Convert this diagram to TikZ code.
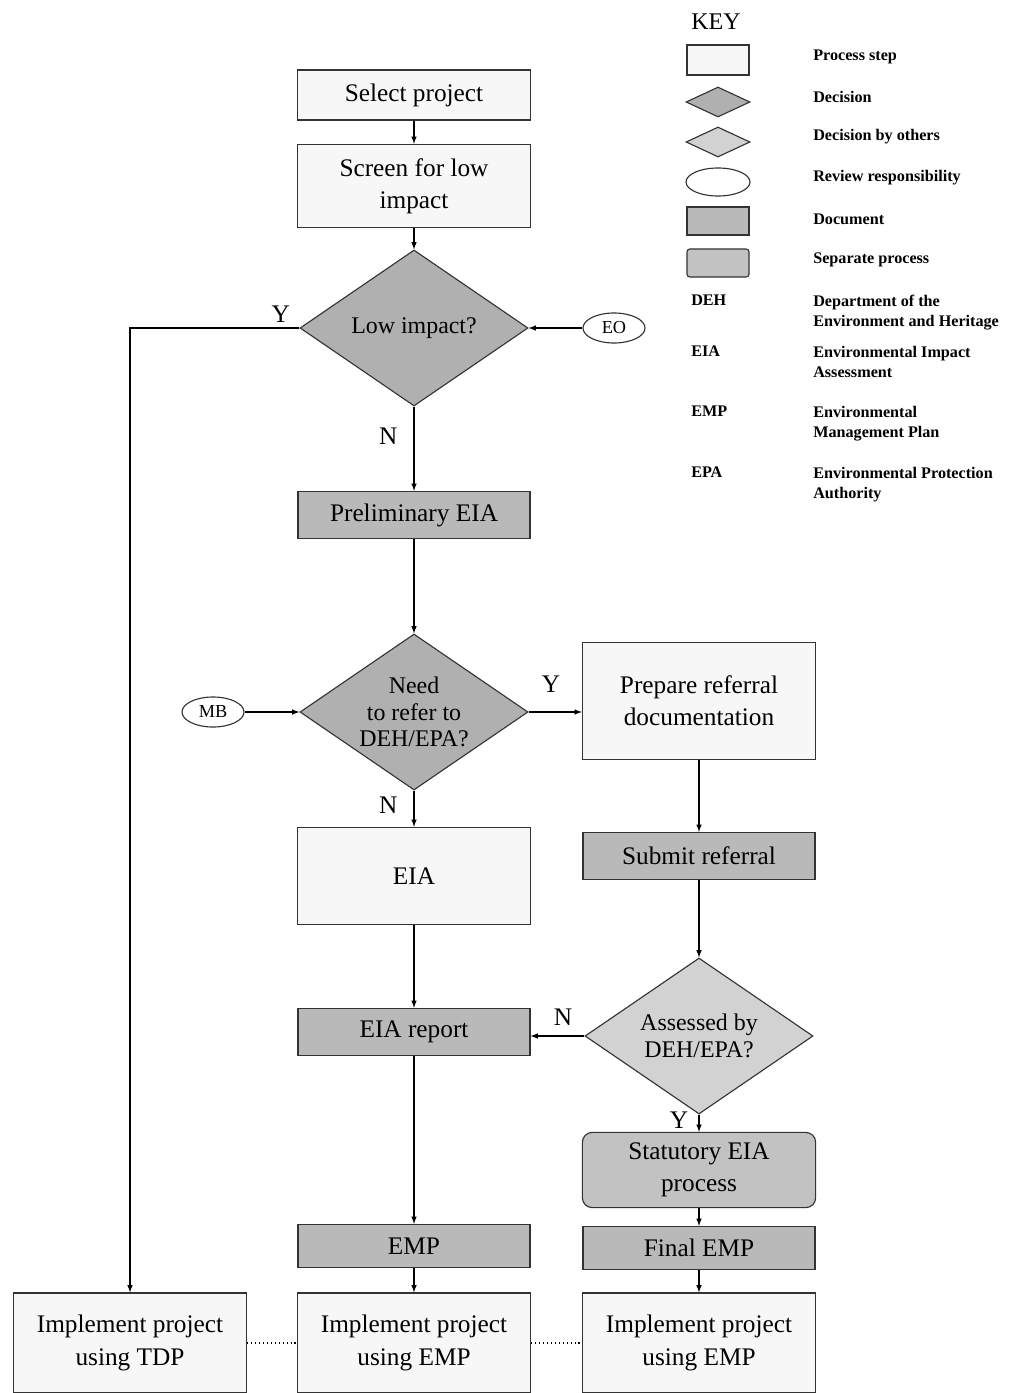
\documentclass[tikz,border=0pt]{standalone}
\usepackage{fontspec}
\setmainfont{Liberation Serif}
\usetikzlibrary{shapes.geometric, arrows, positioning}

\tikzset{
    base/.style={draw=black!80, line width=0.8pt, align=center, inner sep=2pt,
                 font=\fontsize{18}{23}\selectfont},
    process/.style={base, rectangle, fill=gray!6, minimum width=5.83cm},
    document/.style={base, rectangle, fill=gray!55, minimum width=5.8cm, minimum height=1.18cm},
    decision/.style={base, diamond, fill=gray!62, inner sep=-1cm,
                     minimum width=5.7cm, minimum height=3.9cm,
                     font=\fontsize{17}{19}\selectfont},
    others/.style={decision, fill=gray!35},
    separate/.style={base, rectangle, rounded corners=7pt, fill=gray!48,
                     minimum width=5.83cm, minimum height=1.88cm},
    review/.style={base, ellipse, fill=white, inner sep=0pt,
                   minimum width=1.55cm, minimum height=0.75cm,
                   font=\fontsize{13}{15}\selectfont},
    yn/.style={font=\fontsize{18}{20}\selectfont},
    keytext/.style={anchor=west, align=left, font=\fontsize{11.5}{14.2}\selectfont\bfseries},
    keyabbr/.style={keytext, anchor=north west},
}

\begin{document}
\begin{tikzpicture}[x=0.025cm, y=-0.025cm, >=latex, line width=0.8pt]
    \useasboundingbox (0,0) rectangle (1010,1393);

    % main flow
    \node[process, minimum height=1.25cm] (select) at (414,95) {Select project};
    \node[process, minimum height=2.08cm] (screen) at (414,186) {Screen for low\\impact};
    \node[decision] (low) at (414,328) {Low impact?};
    \node[review] (eo) at (614,328) {EO};
    \node[document] (prelim) at (414,515) {Preliminary EIA};
    \node[decision] (refer) at (414,712) {Need\\to refer to\\DEH/EPA?};
    \node[review] (mb) at (213,712) {MB};
    \node[process, minimum height=2.93cm] (prepare) at (699,701) {Prepare referral\\documentation};
    \node[process, minimum height=2.43cm] (eia) at (414,876) {EIA};
    \node[document] (submit) at (699,856) {Submit referral};
    \node[others] (assessed) at (699,1036) {Assessed by\\DEH/EPA?};
    \node[document] (report) at (414,1032) {EIA report};
    \node[separate] (statutory) at (699,1170) {Statutory EIA\\process};
    \node[document, minimum height=1.08cm] (emp) at (414,1246) {EMP};
    \node[document, minimum height=1.08cm] (final) at (699,1248) {Final EMP};

    % implementation row
    \node[process, minimum height=2.5cm] (tdp) at (130,1343) {Implement project\\using TDP};
    \node[process, minimum height=2.5cm] (usingemp) at (414,1343) {Implement project\\using EMP};
    \node[process, minimum height=2.5cm] (usingfinal) at (699,1343) {Implement project\\using EMP};

    \path[->]
    (select)    edge (screen)
    (screen)    edge (low)
    (eo)        edge (low)
    (low)       edge node[yn, left=8pt, pos=0.35] {N} (prelim)
    (prelim)    edge (refer)
    (mb)        edge (refer)
    (refer)     edge node[yn, left=8pt, pos=0.4] {N} (eia)
    (eia)       edge (report)
    (report)    edge (emp)
    (emp)       edge (usingemp)
    (prepare)   edge (submit)
    (submit)    edge (assessed)
    (assessed)  edge node[yn, left=4pt, pos=0.3] {Y} (statutory)
    (statutory) edge (final)
    (final)     edge (usingfinal);

    \draw[->] (refer.east) -- node[yn, above=10pt, pos=0.42] {Y} (refer.east -| prepare.west);
    \draw[->] (assessed.west) -- node[yn, above=4pt, pos=0.4] {N} (assessed.west -| report.east);
    \draw[->] (low.west) -| node[yn, above, pos=0.055] {Y} (tdp.north);
    \draw[dotted] (tdp) -- (usingemp);
    \draw[dotted] (usingemp) -- (usingfinal);

    % key
    \node[font=\fontsize{17}{19}\selectfont] (key) at (716,22) {KEY};
    \node[process, minimum width=1.55cm, minimum height=0.75cm] (kprocess) at (718,60) {};
    \node[decision, minimum width=1.6cm, minimum height=0.75cm] (kdecision) at (718,102) {};
    \node[others, minimum width=1.6cm, minimum height=0.75cm] (kothers) at (718,142) {};
    \node[review, minimum width=1.6cm, minimum height=0.7cm] (kreview) at (718,182) {};
    \node[document, minimum width=1.55cm, minimum height=0.7cm] (kdocument) at (718,221) {};
    \node[separate, rounded corners=2pt, minimum width=1.55cm, minimum height=0.7cm] (kseparate) at (718,263) {};

    \node[keytext] (tprocess) at (808,57) {Process step};
    \node[keytext] (tdecision) at (808,97) {Decision};
    \node[keytext] (tothers) at (808,137) {Decision by others};
    \node[keytext] (treview) at (808,178) {Review responsibility};
    \node[keytext] (tdocument) at (808,219) {Document};
    \node[keytext] (tseparate) at (808,260) {Separate process};

    \node[keyabbr] (adeh) at (686,290) {DEH};
    \node[keyabbr] (aeia) at (686,341) {EIA};
    \node[keyabbr] (aemp) at (686,401) {EMP};
    \node[keyabbr] (aepa) at (686,462) {EPA};
    \node[keyabbr] (tdeh) at (808,290) {Department of the\\Environment and Heritage};
    \node[keyabbr] (teia) at (808,341) {Environmental Impact\\Assessment};
    \node[keyabbr] (temp) at (808,401) {Environmental\\Management Plan};
    \node[keyabbr] (tepa) at (808,462) {Environmental Protection\\Authority};
\end{tikzpicture}
\end{document}
